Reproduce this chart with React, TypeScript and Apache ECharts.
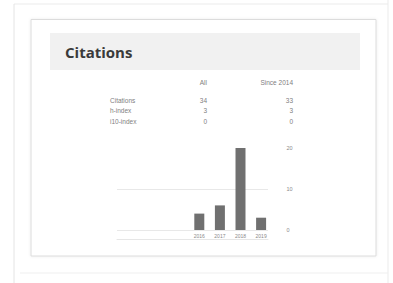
import React, { useEffect, useRef } from "react";
import * as echarts from "echarts";

const title = "Citations";
const columnHeaders = ["All", "Since 2014"];
const rowLabels = ["Citations", "h-index", "i10-index"];
const allValues = ["34", "3", "0"];
const sinceValues = ["33", "3", "0"];
const years = ["2016", "2017", "2018", "2019"];
const yearCitations = [4, 6, 20, 3];
const gridYears = ["", "", "", "", "", "", ""];

export default function App() {
  const ref = useRef<HTMLDivElement>(null);
  useEffect(() => {
    if (!ref.current) return;
    const chart = echarts.init(ref.current, null, { renderer: "svg" });
    const font = "Arial, 'Liberation Sans', sans-serif";
    const textColor = "#808080";
    const rowY = [100, 110.5, 121];
    const tableTexts: any[] = [];
    tableTexts.push({ type: "text", x: 207, y: 82, style: { text: columnHeaders[0], font: `6.5px ${font}`, fill: textColor, align: "right", verticalAlign: "middle" } });
    tableTexts.push({ type: "text", x: 293, y: 82, style: { text: columnHeaders[1], font: `6.5px ${font}`, fill: textColor, align: "right", verticalAlign: "middle" } });
    rowLabels.forEach((lab, i) => {
      tableTexts.push({ type: "text", x: 110, y: rowY[i], style: { text: lab, font: `6.5px ${font}`, fill: textColor, align: "left", verticalAlign: "middle" } });
      tableTexts.push({ type: "text", x: 207, y: rowY[i], style: { text: allValues[i], font: `6.5px ${font}`, fill: textColor, align: "right", verticalAlign: "middle" } });
      tableTexts.push({ type: "text", x: 293, y: rowY[i], style: { text: sinceValues[i], font: `6.5px ${font}`, fill: textColor, align: "right", verticalAlign: "middle" } });
    });
    chart.setOption({
      animation: false,
      backgroundColor: "#fff",
      graphic: [
        { type: "line", shape: { x1: 14, y1: 4, x2: 388, y2: 4 }, style: { stroke: "#ebebeb", lineWidth: 1 } },
        { type: "line", shape: { x1: 14, y1: 4, x2: 14, y2: 283 }, style: { stroke: "#e4e4e4", lineWidth: 1 } },
        { type: "line", shape: { x1: 388, y1: 0, x2: 388, y2: 283 }, style: { stroke: "#ebebeb", lineWidth: 1 } },
        { type: "line", shape: { x1: 20, y1: 273, x2: 388, y2: 273 }, style: { stroke: "#efefef", lineWidth: 1 } },
        { type: "rect", shape: { x: 31, y: 19.5, width: 345, height: 236.5 }, style: { fill: "#fff", stroke: "#dcdcdc", lineWidth: 1, shadowBlur: 3, shadowColor: "rgba(0,0,0,0.08)" } },
        { type: "rect", shape: { x: 50, y: 33, width: 310, height: 37 }, style: { fill: "#f1f1f1" } },
        { type: "text", x: 65, y: 52, style: { text: title, font: `bold 15px 'Open Sans', Arial, sans-serif`, fill: "#3a3a3a", verticalAlign: "middle" } },
        ...tableTexts,
      ],
      grid: [
        { left: 189, width: 82.4, top: 148, height: 82 },
        { left: 117, width: 151, top: 148, height: 82 },
      ],
      xAxis: [
        {
          type: "category",
          gridIndex: 0,
          data: years,
          axisLine: { show: false },
          axisTick: { show: false },
          axisLabel: { fontSize: 5, color: "#8a8a8a", margin: 3, fontFamily: font },
        },
        {
          type: "category",
          gridIndex: 1,
          data: gridYears,
          position: "bottom",
          offset: 9,
          axisLine: { show: true, onZero: false, lineStyle: { color: "#e6e6e6" } },
          axisTick: { show: false },
          axisLabel: { show: false },
        },
      ],
      yAxis: [
        {
          type: "value",
          gridIndex: 0,
          min: 0,
          max: 20,
          interval: 10,
          position: "right",
          axisLine: { show: false },
          axisTick: { show: false },
          splitLine: { show: false },
          axisLabel: { fontSize: 5.5, color: "#8a8a8a", margin: 15, fontFamily: font },
        },
        {
          type: "value",
          gridIndex: 1,
          min: 0,
          max: 20,
          interval: 10,
          axisLine: { show: false },
          axisTick: { show: false },
          axisLabel: { show: false },
          splitLine: { show: true, lineStyle: { color: ["#e8e8e8", "#e8e8e8", "rgba(0,0,0,0)"], width: 1 } },
        },
      ],
      series: [
        {
          type: "bar",
          xAxisIndex: 0,
          yAxisIndex: 0,
          data: yearCitations,
          barWidth: 10,
          itemStyle: { color: "#707070" },
        },
      ],
    });
    return () => chart.dispose();
  }, []);
  return <div ref={ref} style={{ position: "fixed", left: 0, top: 0, width: 393, height: 283 }} />;
}
